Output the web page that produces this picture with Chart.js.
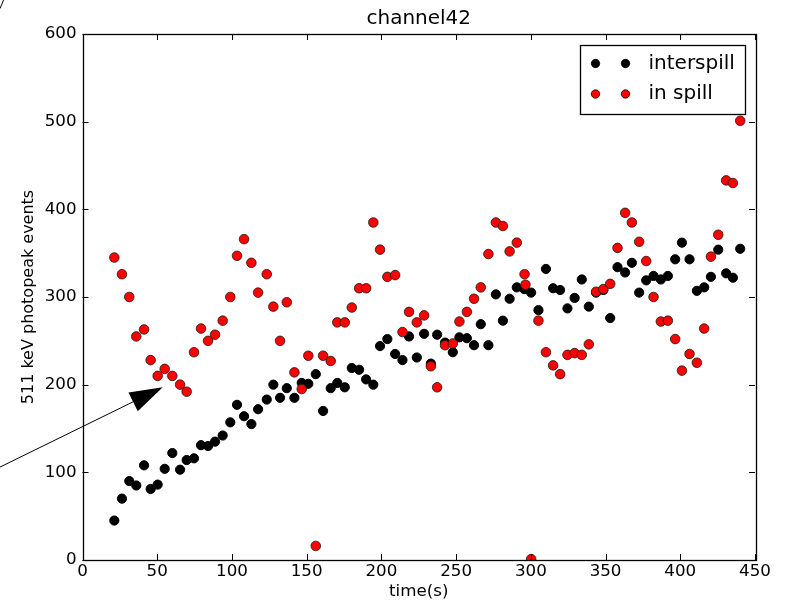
<!DOCTYPE html>
<html>
<head>
<meta charset="utf-8">
<title>channel42</title>
<script src="https://cdn.jsdelivr.net/npm/chart.js@4/dist/chart.umd.min.js"></script>
<style>
  html, body { margin: 0; padding: 0; background: #ffffff; }
  #c { display: block; }
</style>
</head>
<body>
<canvas id="c" width="793" height="602"></canvas>
<script>
// Measurement times (s) for the interspill samples
const times = [21.3, 26.4, 31.3, 36.0, 41.2, 45.6, 50.3, 55.0, 60.1, 65.3,
  69.7, 74.6, 79.3, 84.0, 88.7, 93.8, 98.9, 103.4, 108.1, 113.0,
  117.5, 123.3, 127.7, 132.2, 136.7, 141.8, 146.7, 151.1, 156.1, 161.0,
  166.1, 170.5, 175.5, 180.2, 185.1, 189.8, 194.6, 199.1, 204.0, 209.2,
  214.1, 218.5, 223.7, 228.6, 233.1, 237.3, 242.6, 247.8, 252.2, 257.2,
  262.0, 266.5, 271.6, 276.6, 281.3, 285.8, 290.6, 295.6, 300.2, 305.1,
  310.1, 314.9, 319.6, 324.5, 329.3, 334.1, 338.8, 343.7, 348.5, 353.1,
  358.0, 363.1, 367.6, 372.5, 377.2, 382.1, 387.0, 391.7, 396.6, 401.1,
  406.2, 411.1, 416.0, 420.5, 425.4, 430.7, 435.2, 440.1];

// Measurement times (s) for the in-spill samples
const spillTimes = [21.3, 26.4, 31.3, 36.0, 41.2, 45.6, 50.3, 55.0, 60.1, 65.3,
  69.7, 74.6, 79.3, 84.0, 88.7, 93.8, 98.9, 103.4, 108.1, 113.0,
  117.5, 123.3, 127.7, 132.2, 136.7, 141.8, 146.7, 151.1, 156.1, 161.0,
  166.1, 170.5, 175.5, 180.2, 185.1, 189.8, 194.6, 199.1, 204.0, 209.2,
  214.1, 218.5, 223.7, 228.6, 233.1, 237.3, 242.6, 247.8, 252.2, 257.2,
  262.0, 266.5, 271.6, 276.6, 281.3, 285.8, 290.6, 295.8, 296.4, 300.2, 305.1,
  310.1, 314.9, 319.6, 324.5, 329.3, 334.1, 338.8, 343.7, 348.5, 353.1,
  358.0, 363.1, 367.6, 372.5, 377.2, 382.1, 387.0, 391.7, 396.6, 401.1,
  406.2, 411.1, 416.0, 420.5, 425.4, 430.7, 435.2, 440.1];

// 511 keV photopeak counts between spills
const interspill = [45, 70, 90, 85, 108, 81, 86, 104, 122, 103,
  114, 116, 131, 130, 135, 142, 157, 177, 164, 155,
  172, 183, 200, 185, 196, 185, 202, 201, 212, 170,
  196, 202, 197, 219, 217, 206, 200, 244, 252, 235,
  228, 255, 231, 258, 224, 257, 248, 237, 254, 253,
  245, 269, 245, 303, 273, 298, 311, 309, 305, 285,
  332, 310, 308, 287, 299, 320, 289, 305, 308, 276,
  334, 328, 339, 305, 319, 324, 320, 324, 343, 362,
  343, 307, 311, 323, 354, 327, 322, 355];

// 511 keV photopeak counts during spills
const inSpill = [345, 326, 300, 255, 263, 228, 210, 218, 210, 200,
  192, 237, 264, 250, 257, 273, 300, 347, 366, 339,
  305, 326, 289, 250, 294, 214, 195, 233, 16, 233,
  227, 271, 271, 288, 310, 310, 385, 354, 323, 325,
  260, 283, 271, 279, 221, 197, 245, 247, 272, 283,
  298, 311, 349, 385, 381, 352, 362, 326, 314, 1, 273,
  237, 222, 212, 234, 236, 234, 246, 306, 309, 315,
  356, 396, 385, 363, 341, 300, 272, 273, 252, 216,
  235, 225, 264, 346, 371, 433, 430, 501];

const xTicks = [0, 50, 100, 150, 200, 250, 300, 350, 400, 450];
const yTicks = [0, 100, 200, 300, 400, 500, 600];

const seriesNames = ['interspill', 'in spill'];
const seriesColors = ['#000000', '#ff0000'];

// Annotation arrow (data coordinates): tail outside the axes, head pointing at the spill dip
const arrowTail = { x: -55.2, y: 106 };
const arrowTip = { x: 53.7, y: 197 };
const cornerLine = [{ x: -55.2, y: 629 }, { x: -52.5, y: 640 }];

const FONT = '"DejaVu Sans", "Liberation Sans", sans-serif';

const toPoints = (xs, ys) => ys.map((v, i) => ({ x: xs[i], y: v }));

// Frame, inward ticks on all four sides, legend box and annotation arrow
const decorations = {
  id: 'decorations',
  afterDraw(chart) {
    const { ctx, chartArea: a, scales } = chart;
    const xs = scales.x, ys = scales.y;
    ctx.save();

    // ticks
    ctx.strokeStyle = '#000';
    ctx.lineWidth = 1;
    const tl = 6;
    ctx.beginPath();
    xTicks.forEach(v => {
      const px = Math.round(xs.getPixelForValue(v)) + 0.5;
      ctx.moveTo(px, a.bottom); ctx.lineTo(px, a.bottom - tl);
      ctx.moveTo(px, a.top); ctx.lineTo(px, a.top + tl);
    });
    yTicks.forEach(v => {
      const py = Math.round(ys.getPixelForValue(v)) + 0.5;
      ctx.moveTo(a.left, py); ctx.lineTo(a.left + tl, py);
      ctx.moveTo(a.right, py); ctx.lineTo(a.right - tl, py);
    });
    ctx.stroke();

    // frame
    ctx.lineWidth = 1.3;
    ctx.strokeRect(Math.round(a.left) + 0.5, Math.round(a.top) + 0.5,
      Math.round(a.right - a.left), Math.round(a.bottom - a.top));

    // legend
    const bw = 165, bh = 69;
    const bx = Math.round(a.right - 10 - bw) + 0.5;
    const by = Math.round(a.top + 11) + 0.5;
    ctx.fillStyle = '#fff';
    ctx.fillRect(bx, by, bw, bh);
    ctx.lineWidth = 1.3;
    ctx.strokeStyle = '#000';
    ctx.strokeRect(bx, by, bw, bh);
    ctx.font = '20px ' + FONT;
    ctx.textBaseline = 'middle';
    ctx.textAlign = 'left';
    seriesNames.forEach((name, i) => {
      const ry = by + 18 + i * 30.5;
      [15, 45].forEach(dx => {
        ctx.beginPath();
        ctx.arc(bx + dx, ry, 4.2, 0, Math.PI * 2);
        ctx.fillStyle = seriesColors[i];
        ctx.fill();
        ctx.lineWidth = 0.8;
        ctx.strokeStyle = '#000';
        ctx.stroke();
      });
      ctx.fillStyle = '#000';
      ctx.fillText(name, bx + 68, ry);
    });

    // annotation arrow
    const tx = xs.getPixelForValue(arrowTail.x), ty = ys.getPixelForValue(arrowTail.y);
    const hx = xs.getPixelForValue(arrowTip.x), hy = ys.getPixelForValue(arrowTip.y);
    const ang = Math.atan2(hy - ty, hx - tx);
    const headLen = 33, headHalf = 10.5;
    const baseX = hx - headLen * Math.cos(ang), baseY = hy - headLen * Math.sin(ang);
    ctx.strokeStyle = '#000';
    ctx.lineWidth = 1;
    ctx.beginPath();
    ctx.moveTo(tx, ty); ctx.lineTo(baseX, baseY);
    ctx.stroke();
    ctx.fillStyle = '#000';
    ctx.beginPath();
    ctx.moveTo(hx, hy);
    ctx.lineTo(baseX + headHalf * Math.sin(ang), baseY - headHalf * Math.cos(ang));
    ctx.lineTo(baseX - headHalf * Math.sin(ang), baseY + headHalf * Math.cos(ang));
    ctx.closePath();
    ctx.fill();

    ctx.beginPath();
    ctx.moveTo(xs.getPixelForValue(cornerLine[0].x), ys.getPixelForValue(cornerLine[0].y));
    ctx.lineTo(xs.getPixelForValue(cornerLine[1].x), ys.getPixelForValue(cornerLine[1].y));
    ctx.stroke();

    ctx.restore();
  }
};

new Chart(document.getElementById('c'), {
  type: 'scatter',
  data: {
    datasets: [
      {
        label: seriesNames[0],
        data: toPoints(times, interspill),
        backgroundColor: seriesColors[0],
        borderColor: '#000',
        borderWidth: 1,
        pointRadius: 4.6,
        order: 1,
        clip: 0
      },
      {
        label: seriesNames[1],
        data: toPoints(spillTimes, inSpill),
        backgroundColor: seriesColors[1],
        borderColor: '#1a1a1a',
        borderWidth: 0.8,
        pointRadius: 4.8,
        order: 0,
        clip: 0
      }
    ]
  },
  options: {
    responsive: false,
    animation: false,
    events: [],
    layout: { padding: { left: 0, right: 38, top: 0, bottom: 0 } },
    plugins: {
      legend: { display: false },
      tooltip: { enabled: false },
      title: {
        display: true,
        text: 'channel42',
        fullSize: false,
        color: '#000',
        font: { family: FONT, size: 20, weight: 'normal', lineHeight: 1.2 },
        padding: { top: 7, bottom: 3 }
      }
    },
    scales: {
      x: {
        type: 'linear',
        min: 0, max: 450,
        afterBuildTicks: s => { s.ticks = xTicks.map(v => ({ value: v })); },
        afterFit: s => { s.height = 42; },
        grid: { display: false, drawTicks: false },
        border: { display: false },
        ticks: { color: '#000', padding: 2, maxRotation: 0, autoSkip: false,
          font: { family: FONT, size: 16.7 } },
        title: { display: true, text: 'time(s)', color: '#000',
          font: { family: FONT, size: 16.7 }, padding: { top: 0, bottom: 0 } }
      },
      y: {
        type: 'linear',
        min: 0, max: 600,
        afterBuildTicks: s => { s.ticks = yTicks.map(v => ({ value: v })); },
        afterFit: s => { s.width = 82.5; },
        grid: { display: false, drawTicks: false },
        border: { display: false },
        ticks: { color: '#000', padding: 6, font: { family: FONT, size: 16.7 } },
        title: { display: true, text: '511 keV photopeak events', color: '#000',
          font: { family: FONT, size: 16 }, padding: { top: 19, bottom: 0 } }
      }
    }
  },
  plugins: [decorations]
});
</script>
</body>
</html>
